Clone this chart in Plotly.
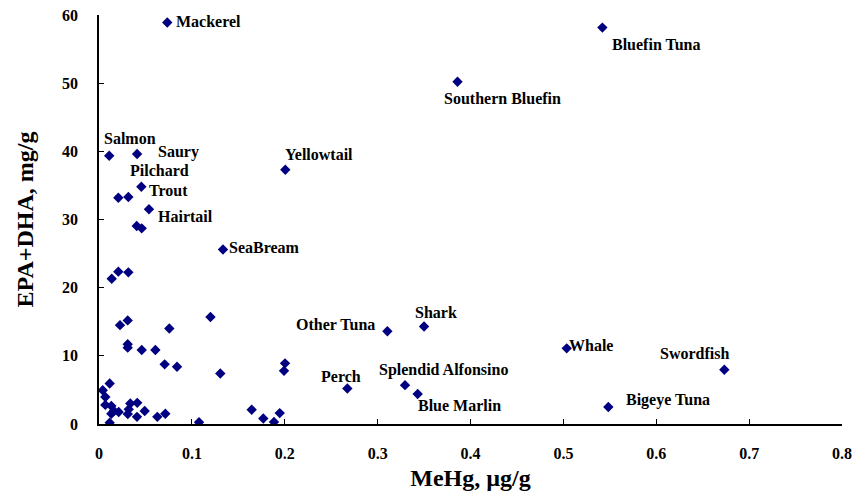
import plotly.graph_objects as go

# Fish species: methylmercury (MeHg, µg/g) vs. omega-3 content (EPA+DHA, mg/g)
fish = [
    "Mackerel", "Bluefin Tuna", "Southern Bluefin", "Salmon", "Saury",
    "Yellowtail", "Trout", "Pilchard", "Hairtail", "SeaBream",
    "Other Tuna", "Shark", "Perch", "Splendid Alfonsino", "Blue Marlin",
    "Whale", "Swordfish", "Bigeye Tuna",
    "", "", "", "", "", "", "", "", "", "",
    "", "", "", "", "", "", "", "", "", "",
    "", "", "", "", "", "", "", "", "", "",
    "", "", "", "", "", "", "", "", "", "",
]
mehg = [
    0.0735, 0.542, 0.386, 0.011, 0.041,
    0.2006, 0.0456, 0.0316, 0.0538, 0.1335,
    0.3105, 0.350, 0.2674, 0.3295, 0.3431,
    0.5036, 0.6733, 0.5484,
    0.0208, 0.0406, 0.046, 0.0208, 0.0316, 0.0137, 0.0226, 0.0309, 0.0757, 0.120,
    0.0309, 0.0309, 0.046, 0.0607, 0.0707, 0.084, 0.1306, 0.2003, 0.1992, 0.1644,
    0.1769, 0.1884, 0.1946, 0.1077, 0.0115, 0.004, 0.0068, 0.0068, 0.0133, 0.0161,
    0.0212, 0.0133, 0.0115, 0.0337, 0.0412, 0.032, 0.031, 0.0492, 0.0409, 0.0628,
    0.0714,
]
epa_dha = [
    58.9, 58.15, 50.2, 39.35, 39.6,
    37.3, 34.8, 33.3, 31.5, 25.6,
    13.6, 14.3, 5.2, 5.7, 4.4,
    11.1, 7.95, 2.5,
    33.2, 29.05, 28.7, 22.35, 22.25, 21.3, 14.5, 15.2, 14.0, 15.7,
    11.7, 11.2, 10.85, 10.85, 8.75, 8.4, 7.4, 8.9, 7.8, 2.1,
    0.8, 0.3, 1.6, 0.25, 5.95, 4.95, 3.95, 2.8, 2.65, 1.9,
    1.75, 1.5, 0.2, 3.0, 3.1, 2.15, 1.45, 1.9, 1.05, 1.05,
    1.5,
]
fish = fish[:len(mehg)]

x_ticks = [0, 0.1, 0.2, 0.3, 0.4, 0.5, 0.6, 0.7, 0.8]
y_ticks = [0, 10, 20, 30, 40, 50, 60]

# Label placement relative to each marker: (anchor, x shift px, y shift px down)
label_offsets = {
    "Mackerel": ("left", 8, -1),
    "Bluefin Tuna": ("left", 9, 17),
    "Southern Bluefin": ("left", -15, 17),
    "Salmon": ("left", -6, -17),
    "Saury": ("left", 20, -2),
    "Yellowtail": ("left", -1, -15),
    "Trout": ("left", 7, 4),
    "Pilchard": ("left", 1, -27),
    "Hairtail": ("left", 8, 7),
    "SeaBream": ("left", 5, -2),
    "Other Tuna": ("right", -11, -7),
    "Shark": ("left", -10, -14),
    "Perch": ("left", -27, -12),
    "Splendid Alfonsino": ("left", -27, -15),
    "Blue Marlin": ("left", -1, 11),
    "Whale": ("left", 1, -3),
    "Swordfish": ("left", -65, -16),
    "Bigeye Tuna": ("left", 17, -7),
}

serif = "Liberation Serif, Times New Roman, serif"

fig = go.Figure()
fig.add_trace(go.Scatter(
    x=mehg, y=epa_dha, mode="markers", text=fish,
    marker=dict(symbol="diamond", size=8, color="#000080", line=dict(width=0)),
    hoverinfo="x+y+text", showlegend=False,
))

for name, xv, yv in zip(fish, mehg, epa_dha):
    if not name:
        continue
    anchor, dx, dy = label_offsets[name]
    fig.add_annotation(
        x=xv, y=yv, text=name, showarrow=False,
        xanchor=anchor, yanchor="middle", xshift=dx, yshift=-dy,
        borderpad=0,
        font=dict(family=serif, size=16, color="black", weight="bold"),
    )

axis_common = dict(
    showgrid=False, zeroline=False, showline=True, linecolor="black", linewidth=1.5,
    ticks="inside", ticklen=5, tickwidth=1, tickcolor="black",
    tickfont=dict(family=serif, size=16, color="black", weight="bold"),
)

fig.update_layout(
    width=853, height=498,
    margin=dict(l=99, r=11, t=15, b=74, autoexpand=False),
    paper_bgcolor="white", plot_bgcolor="white",
    xaxis=dict(
        range=[0, 0.8], tickvals=x_ticks, ticktext=[f"{v:g}" for v in x_ticks],
        ticklabelstandoff=14,
        title=dict(text="MeHg, µg/g", standoff=8,
                   font=dict(family=serif, size=24, color="black", weight="bold")),
        **axis_common,
    ),
    yaxis=dict(
        range=[0, 60], tickvals=y_ticks, ticktext=[str(v) for v in y_ticks],
        ticklabelstandoff=16,
        title=dict(text="EPA+DHA, mg/g", standoff=22,
                   font=dict(family=serif, size=24, color="black", weight="bold")),
        **axis_common,
    ),
)

fig.write_html("out.html")
